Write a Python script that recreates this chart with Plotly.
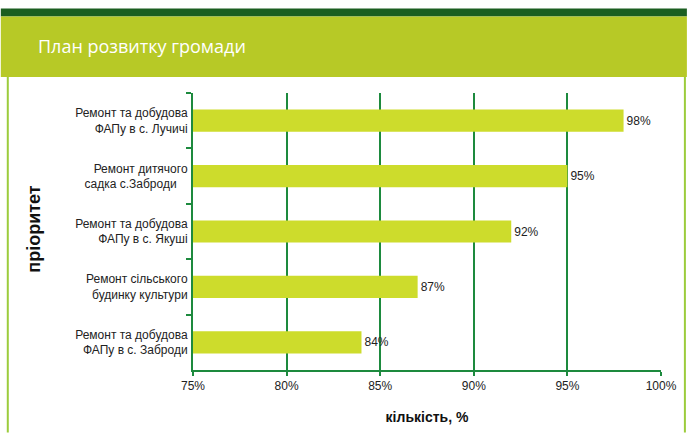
import plotly.graph_objects as go

categories = [
    "Ремонт та добудова<br>ФАПу в с. Лучичі",
    "Ремонт дитячого<br>садка с.Забродиﾠ",
    "Ремонт та добудова<br>ФАПу в с. Якуші",
    "Ремонт сільського<br>будинку культури",
    "Ремонт та добудова<br>ФАПу в с. Заброди",
]
values = [98, 95, 92, 87, 84]
value_labels = ["98%", "95%", "92%", "87%", "84%"]
tick_vals = [75, 80, 85, 90, 95, 100]
tick_text = ["75%", "80%", "85%", "90%", "95%", "100%"]

W, H = 689, 435
L, R, T, B = 193, 663, 93, 372

def px(x):
    return (x - L) / (R - L)

def py(y):
    return (B - y) / (B - T)

FONT = "Liberation Sans Narrow, Arial Narrow, Liberation Sans, sans-serif"

fig = go.Figure()
fig.add_trace(go.Bar(
    y=categories, x=values, orientation="h", base=0,
    marker=dict(color="#cddc2c", line=dict(width=0)),
    width=0.4,
    text=value_labels, textposition="outside", cliponaxis=False,
    textfont=dict(family=FONT, size=12, color="#222"),
))

grid = "#1d8a3e"
fig.update_layout(
    width=W, height=H,
    margin=dict(l=L, r=W - R, t=T, b=H - B, pad=0),
    paper_bgcolor="white", plot_bgcolor="white",
    showlegend=False,
    font=dict(family=FONT, size=12, color="#222"),
    xaxis=dict(
        range=[75, 100], tickvals=tick_vals, ticktext=tick_text,
        showgrid=True, gridcolor=grid, gridwidth=2,
        showline=True, linecolor=grid, linewidth=2,
        ticks="outside", ticklen=4, tickcolor=grid, tickwidth=2,
        zeroline=False,
        tickfont=dict(size=12, color="#222"),
        title=dict(text="<b>кількість, %</b>", font=dict(size=14, color="#111"), standoff=20),
    ),
    yaxis=dict(
        autorange="reversed", showline=True, linecolor=grid, linewidth=2,
        ticks="outside", ticklen=5, tickcolor=grid, tickwidth=2,
        tickson="boundaries", showgrid=False,
        tickfont=dict(size=12, color="#222"),
        ticklabelstandoff=1,
    ),
    shapes=[
        dict(type="rect", xref="paper", yref="paper", x0=px(0), x1=px(W), y0=py(16), y1=py(8),
             fillcolor="#1b5e20", line=dict(width=0), layer="above"),
        dict(type="rect", xref="paper", yref="paper", x0=px(0), x1=px(W), y0=py(77), y1=py(16),
             fillcolor="#b7c926", line=dict(width=0), layer="above"),
        dict(type="line", xref="paper", yref="paper", x0=px(7), x1=px(7), y0=py(H), y1=py(77),
             line=dict(color="#9ccc3c", width=2)),
        dict(type="line", xref="paper", yref="paper", x0=px(687), x1=px(687), y0=py(H), y1=py(77),
             line=dict(color="#9ccc3c", width=2)),
    ],
    annotations=[
        dict(text="План розвитку громади", xref="paper", yref="paper", x=px(35), y=py(46),
             xanchor="left", yanchor="middle", showarrow=False,
             font=dict(family="Open Sans, sans-serif", size=18, color="white")),
        dict(text="<b>пріоритет</b>", xref="paper", yref="paper", x=px(33), y=py(230),
             xanchor="center", yanchor="middle", showarrow=False, textangle=-90,
             font=dict(family=FONT, size=18, color="#111")),
    ],
)
fig.write_html("out.html", config={"displayModeBar": False},
               post_script="document.body.style.margin='0';")
